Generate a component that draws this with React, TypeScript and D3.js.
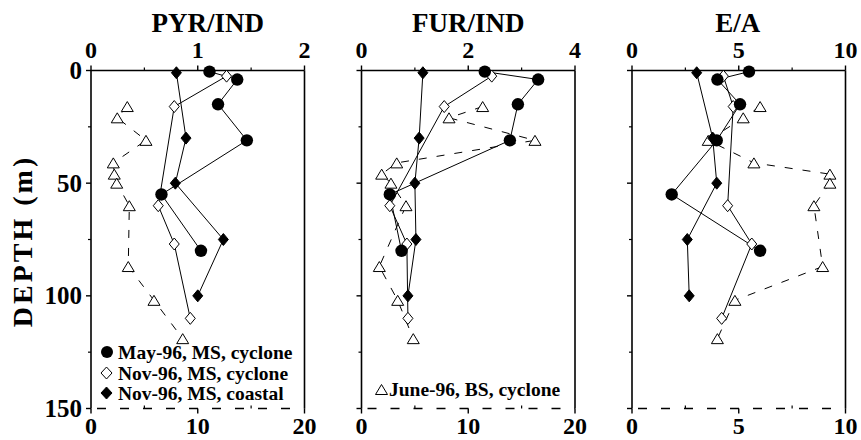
import React from "react";
import * as d3 from "d3";

// panel setup
const panelTitles = ["PYR/IND", "FUR/IND", "E/A"];
const topMax = [2, 4, 10];
const topTicks = [[0, 1, 2], [0, 2, 4], [0, 5, 10]];
const bottomMax = [20, 20, 10];
const bottomTicks = [[0, 10, 20], [0, 10, 20], [0, 5, 10]];
const depthTicks = [0, 50, 100, 150];

// depths (m) of each station series
const mayDepth = [0.5, 4, 15, 31, 55, 80];
const novCycDepth = [2.5, 16, 60, 77, 110];
const novCoastDepth = [1, 30, 50, 75, 100];
const juneDepth = [16, 21, 31, 41, 46, 50, 60, 87, 102, 119];

// values per panel: PYR/IND, FUR/IND, E/A
const mayVals = [
  [1.11, 1.37, 1.19, 1.46, 0.66, 1.03],
  [2.31, 3.31, 2.93, 2.78, 0.53, 0.75],
  [5.48, 4.0, 5.06, 3.97, 1.86, 6.0],
];
const novCycVals = [
  [1.27, 0.78, 0.63, 0.78, 0.93],
  [2.44, 1.55, 0.53, 0.85, 0.87],
  [4.28, 4.74, 4.48, 5.61, 4.2],
];
const novCoastVals = [
  [0.8, 0.89, 0.79, 1.24, 1.0],
  [1.15, 1.08, 1.0, 1.02, 0.87],
  [3.03, 3.78, 3.97, 2.59, 2.68],
];
// June-96 BS is read on the bottom (dashed) axis
const juneVals = [
  [3.4, 2.46, 5.15, 2.09, 2.18, 2.41, 3.59, 3.49, 5.9, 8.59],
  [11.35, 8.2, 16.25, 3.3, 1.89, 2.76, 4.17, 1.67, 3.39, 4.85],
  [6.0, 5.21, 3.57, 5.71, 9.27, 9.27, 8.52, 8.93, 4.82, 4.0],
];

const legendLabels = ["May-96, MS, cyclone", "Nov-96, MS, cyclone", "Nov-96, MS, coastal"];
const juneLabel = "June-96, BS, cyclone";

const W = 861, H = 440;
const panelLeft = [91, 361.5, 632];
const titleShift = [10, 0, -1];
const pw = 213.5;
const top = 70.5, bottom = 408.5;
const font = "'Liberation Serif', 'Times New Roman', serif";

const diamond = (cx: number, cy: number, w: number, h: number) =>
  `M${cx},${cy - h / 2}L${cx + w / 2},${cy}L${cx},${cy + h / 2}L${cx - w / 2},${cy}Z`;
const triangle = (cx: number, cy: number, w: number, h: number) =>
  `M${cx},${cy - h / 2}L${cx + w / 2},${cy + h / 2}L${cx - w / 2},${cy + h / 2}Z`;

function Panel({ i }: { i: number }) {
  const left = panelLeft[i];
  const x = d3.scaleLinear().domain([0, topMax[i]]).range([left, left + pw]);
  const xb = d3.scaleLinear().domain([0, bottomMax[i]]).range([left, left + pw]);
  const y = d3.scaleLinear().domain([0, 150]).range([top, bottom]);
  const line = d3.line<[number, number]>();

  const pts = (vals: number[], deps: number[], sx: d3.ScaleLinear<number, number>) =>
    vals.map((v, k) => [sx(v), y(deps[k])] as [number, number]);

  const may = pts(mayVals[i], mayDepth, x);
  const novC = pts(novCycVals[i], novCycDepth, x);
  const novK = pts(novCoastVals[i], novCoastDepth, x);
  const june = pts(juneVals[i], juneDepth, xb);

  const tStep = topTicks[i][1] - topTicks[i][0];
  const topMinor = d3.range(tStep / 2, topMax[i], tStep);
  const bStep = bottomTicks[i][1] - bottomTicks[i][0];
  const botMinor = d3.range(bStep / 2, bottomMax[i], bStep);
  const depthMinor = [25, 75, 125];

  return (
    <g>
      <text x={left + pw / 2 + titleShift[i]} y={32} textAnchor="middle" fontFamily={font} fontWeight="bold" fontSize={27}>
        {panelTitles[i]}
      </text>
      {/* frame */}
      <line x1={left} x2={left + pw} y1={top} y2={top} stroke="#000" strokeWidth={1.6} />
      <line x1={left} x2={left} y1={top} y2={bottom} stroke="#000" strokeWidth={1.6} />
      <line x1={left + pw} x2={left + pw} y1={top} y2={bottom} stroke="#000" strokeWidth={1.6} />
      <line x1={left} x2={left + pw} y1={bottom} y2={bottom} stroke="#000" strokeWidth={1.6} strokeDasharray="9,14" strokeDashoffset={-6} />
      {/* top axis */}
      {topTicks[i].map((t) => (
        <g key={"t" + t}>
          <line x1={x(t)} x2={x(t)} y1={top} y2={top - 5} stroke="#000" strokeWidth={1.4} />
          <text x={x(t)} y={58} textAnchor="middle" fontFamily={font} fontWeight="bold" fontSize={24}>{t}</text>
        </g>
      ))}
      {topMinor.map((t) => (
        <line key={"tm" + t} x1={x(t)} x2={x(t)} y1={top} y2={top - 3} stroke="#000" strokeWidth={1.2} />
      ))}
      {/* bottom axis */}
      {bottomTicks[i].map((t) => (
        <g key={"b" + t}>
          <line x1={xb(t)} x2={xb(t)} y1={bottom} y2={bottom + 5} stroke="#000" strokeWidth={1.4} />
          <text x={xb(t)} y={434} textAnchor="middle" fontFamily={font} fontWeight="bold" fontSize={24}>{t}</text>
        </g>
      ))}
      {botMinor.map((t) => (
        <line key={"bm" + t} x1={xb(t)} x2={xb(t)} y1={bottom} y2={bottom - 3} stroke="#000" strokeWidth={1.2} />
      ))}
      {/* depth ticks */}
      {depthTicks.map((d) => (
        <g key={"d" + d}>
          <line x1={left} x2={left - 5} y1={y(d)} y2={y(d)} stroke="#000" strokeWidth={1.4} />
          {i === 0 && (
            <text x={left - 9} y={y(d) + 8.5} textAnchor="end" fontFamily={font} fontWeight="bold" fontSize={25}>{d}</text>
          )}
        </g>
      ))}
      {depthMinor.map((d) => (
        <line key={"dm" + d} x1={left} x2={left - 3} y1={y(d)} y2={y(d)} stroke="#000" strokeWidth={1.2} />
      ))}
      {/* series lines */}
      <path d={line(june) ?? ""} fill="none" stroke="#000" strokeWidth={1} strokeDasharray="8,10" />
      <path d={line(novC) ?? ""} fill="none" stroke="#000" strokeWidth={1} />
      <path d={line(novK) ?? ""} fill="none" stroke="#000" strokeWidth={1} />
      <path d={line(may) ?? ""} fill="none" stroke="#000" strokeWidth={1} />
      {/* markers */}
      {june.map(([px, py], k) => (
        <path key={"j" + k} d={triangle(px, py, 12, 10)} fill="#fff" stroke="#000" strokeWidth={1} />
      ))}
      {novC.map(([px, py], k) => (
        <path key={"nc" + k} d={diamond(px, py, 10, 12)} fill="#fff" stroke="#000" strokeWidth={1} />
      ))}
      {novK.map(([px, py], k) => (
        <path key={"nk" + k} d={diamond(px, py, 10, 12)} fill="#000" stroke="#000" strokeWidth={1} />
      ))}
      {may.map(([px, py], k) => (
        <circle key={"m" + k} cx={px} cy={py} r={6.2} fill="#000" />
      ))}
    </g>
  );
}

export default function App() {
  const legendY = [352, 373, 393];
  return (
    <svg width={W} height={H} style={{ position: "absolute", left: 0, top: 0, background: "#fff" }}>
      <rect width={W} height={H} fill="#fff" />
      <text transform="translate(32,241) rotate(-90)" textAnchor="middle" fontFamily={font} fontWeight="bold" fontSize={28} letterSpacing={3}>
        DEPTH (m)
      </text>
      {[0, 1, 2].map((i) => <Panel key={i} i={i} />)}
      {/* legend, panel 1 */}
      <circle cx={107} cy={legendY[0]} r={6} fill="#000" />
      <path d={diamond(106.5, legendY[1], 11, 12)} fill="#fff" stroke="#000" strokeWidth={1} />
      <path d={diamond(106.5, legendY[2], 11, 12)} fill="#000" stroke="#000" strokeWidth={1} />
      {legendLabels.map((l, k) => (
        <text key={l} x={118} y={legendY[k] + 6.5} fontFamily={font} fontWeight="bold" fontSize={19.5}>{l}</text>
      ))}
      {/* legend, panel 2 */}
      <path d={triangle(381.5, 389.5, 12, 10)} fill="#fff" stroke="#000" strokeWidth={1} />
      <text x={389} y={396} fontFamily={font} fontWeight="bold" fontSize={19.5}>{juneLabel}</text>
    </svg>
  );
}
